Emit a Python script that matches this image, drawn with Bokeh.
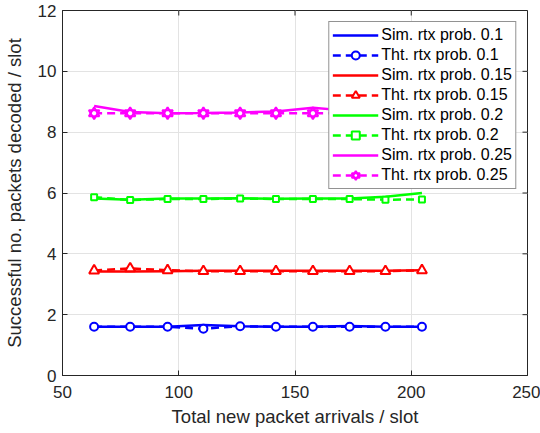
import math
from bokeh.plotting import figure
from bokeh.models import Legend, LegendItem, FixedTicker, Range1d
from bokeh.embed import file_html
from bokeh.resources import INLINE

# ---- data ----
arrivals = [63.6, 79.1, 95.2, 110.6, 126.4, 141.8, 157.7, 173.5, 188.9, 204.6]

sim_01 = [1.60, 1.60, 1.60, 1.66, 1.62, 1.60, 1.60, 1.63, 1.60, 1.60]
tht_01 = [1.60, 1.60, 1.60, 1.54, 1.62, 1.60, 1.60, 1.60, 1.60, 1.60]

sim_015 = [3.42, 3.42, 3.43, 3.44, 3.44, 3.44, 3.44, 3.44, 3.44, 3.46]
tht_015 = [3.45, 3.52, 3.46, 3.43, 3.43, 3.43, 3.43, 3.43, 3.43, 3.46]

sim_02 = [5.82, 5.78, 5.82, 5.82, 5.83, 5.81, 5.82, 5.82, 5.88, 6.00]
tht_02 = [5.86, 5.77, 5.80, 5.80, 5.82, 5.80, 5.80, 5.80, 5.78, 5.79]

sim_025 = [8.86, 8.66, 8.62, 8.63, 8.65, 8.68, 8.80, 8.70, 8.65, 8.65]
tht_025 = [8.62, 8.62, 8.62, 8.62, 8.62, 8.62, 8.62, 8.62, 8.62, 8.62]

x_ticks = [50, 100, 150, 200, 250]
y_ticks = [0, 2, 4, 6, 8, 10, 12]

labels = ["Sim. rtx prob. 0.1", "Tht. rtx prob. 0.1",
          "Sim. rtx prob. 0.15", "Tht. rtx prob. 0.15",
          "Sim. rtx prob. 0.2", "Tht. rtx prob. 0.2",
          "Sim. rtx prob. 0.25", "Tht. rtx prob. 0.25"]

FONT = "Liberation Sans"
AX = "#262626"

p = figure(width=540, height=433,
           x_range=Range1d(x_ticks[0], x_ticks[-1]),
           y_range=Range1d(y_ticks[0], y_ticks[-1]),
           output_backend="svg", toolbar_location=None,
           min_border_left=59, min_border_right=13,
           min_border_top=10, min_border_bottom=58)
p.background_fill_color = "white"
p.border_fill_color = "white"
p.outline_line_color = AX
p.outline_line_width = 1

for ax, ticks in ((p.xaxis[0], x_ticks), (p.yaxis[0], y_ticks)):
    ax.ticker = FixedTicker(ticks=ticks)
    ax.minor_tick_line_color = None
    ax.major_tick_in = 5
    ax.major_tick_out = 0
    ax.axis_line_color = AX
    ax.major_tick_line_color = AX
    ax.major_label_text_color = AX
    ax.major_label_text_font = FONT
    ax.major_label_text_font_size = "17px"
    ax.axis_label_text_font = FONT
    ax.axis_label_text_font_size = "18.5px"
    ax.axis_label_text_font_style = "normal"
    ax.axis_label_text_color = AX

p.xaxis.axis_label = "Total new packet arrivals / slot"
p.yaxis.axis_label = "Successful no. packets decoded / slot"
p.xaxis.major_label_standoff = 10
p.xaxis.axis_label_standoff = 5
p.yaxis.major_label_standoff = 6
p.yaxis.axis_label_standoff = 10

# inward ticks on the top and right edges of the box, at the same tick values
top_y = [p.y_range.end] * len(x_ticks)
right_x = [p.x_range.end] * len(y_ticks)
p.ray(x=x_ticks, y=top_y, length=5, length_units="screen", angle=-math.pi / 2,
      line_color=AX, line_width=1)
p.ray(x=right_x, y=y_ticks, length=5, length_units="screen", angle=math.pi,
      line_color=AX, line_width=1)

p.xgrid.ticker = FixedTicker(ticks=x_ticks)
p.ygrid.ticker = FixedTicker(ticks=y_ticks)
p.grid.grid_line_color = "#e3e3e3"
p.grid.grid_line_width = 1

series = [
    (sim_01, tht_01, "#0000ff", "circle"),
    (sim_015, tht_015, "#ff0000", "triangle"),
    (sim_02, tht_02, "#00ff00", "square"),
    (sim_025, tht_025, "#ff00ff", "hexagram"),
]

items = []
for i, (sim, tht, col, mk) in enumerate(series):
    r_sim = p.line(arrivals, sim, line_color=col, line_width=2.5)
    r_tht = p.line(arrivals, tht, line_color=col, line_width=2.5, line_dash="8 5")
    if mk == "hexagram":
        m1 = p.scatter(arrivals, tht, marker="triangle", size=10.5, line_color=col,
                       line_width=2, fill_color="white")
        m2 = p.scatter(arrivals, tht, marker="inverted_triangle", size=10.5, line_color=col,
                       line_width=2, fill_color=None)
        marks = [m1, m2]
    else:
        sz = {"circle": 8, "triangle": 10, "square": 6}[mk]
        m = p.scatter(arrivals, tht, marker=mk, size=sz, line_color=col,
                      line_width=2, fill_color="white")
        marks = [m]
    items.append(LegendItem(label=labels[2 * i], renderers=[r_sim]))
    items.append(LegendItem(label=labels[2 * i + 1], renderers=[r_tht] + marks))

legend = Legend(items=items, location="top_right")
legend.label_text_font = FONT
legend.label_text_font_size = "16px"
legend.label_text_color = "black"
legend.glyph_width = 46
legend.glyph_height = 20
legend.label_height = 20
legend.spacing = 0
legend.padding = 3
legend.margin = 11
legend.label_standoff = 3
legend.border_line_color = AX
legend.border_line_width = 1
legend.background_fill_color = "white"
legend.background_fill_alpha = 1.0
p.add_layout(legend)

open("out.html", "w").write(file_html(p, INLINE))
